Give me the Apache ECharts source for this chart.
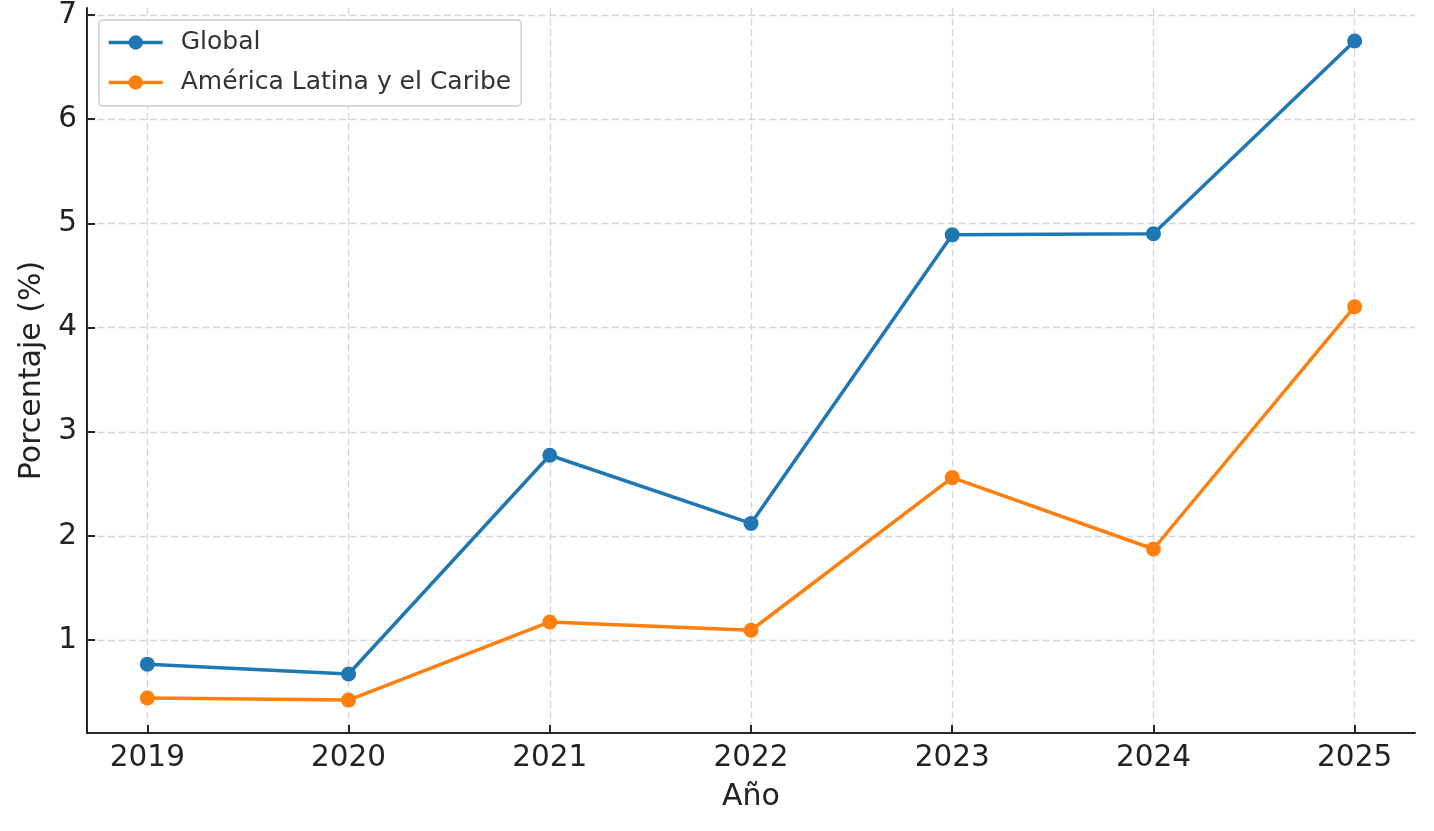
<!DOCTYPE html>
<html><head><meta charset="utf-8">
<script src="https://cdn.jsdelivr.net/npm/echarts@6/dist/echarts.min.js"></script>
<style>html,body{margin:0;padding:0;background:#fff}#c{width:1434px;height:831px}</style>
</head><body><div id="c"></div>
<script>
const years = [2019, 2020, 2021, 2022, 2023, 2024, 2025];
const globalVals = [0.77, 0.675, 2.775, 2.12, 4.89, 4.90, 6.75];
const latamVals = [0.445, 0.425, 1.175, 1.095, 2.56, 1.875, 4.20];
const yTicks = [1, 2, 3, 4, 5, 6, 7];
const seriesNames = ['Global', 'América Latina y el Caribe'];
const colors = ['#1f77b4', '#ff7f0e'];

const font = 'DejaVu Sans';
const chart = echarts.init(document.getElementById('c'), null, {renderer: 'canvas'});
const toPairs = vals => years.map((y, i) => [y, vals[i]]);

const gridLine = {show: true, lineStyle: {color: '#d6d6d6', width: 1.3, type: [7, 3.5]}};
const axisLine = {show: true, onZero: false, lineStyle: {color: '#262626', width: 2}};

chart.setOption({
  animation: false,
  color: colors,
  grid: {left: 87, right: 19, top: 7, bottom: 98, containLabel: false},
  legend: {
    orient: 'vertical', left: 99, top: 20,
    data: seriesNames,
    itemWidth: 54, itemHeight: 18, itemGap: 15,
    padding: [10, 10, 11, 8],
    lineStyle: {width: 3.4},
    backgroundColor: '#fff', borderColor: '#cccccc', borderWidth: 1.5, borderRadius: 4,
    textStyle: {fontFamily: font, fontSize: 25, color: '#333', padding: [0, 0, 0, 13]}
  },
  xAxis: {
    type: 'value', min: 2018.7, max: 2025.3, minInterval: 1, maxInterval: 1, splitNumber: 6,
    name: 'Año', nameLocation: 'middle', nameGap: 49,
    nameTextStyle: {fontFamily: font, fontSize: 30, color: '#222'},
    axisLine: axisLine,
    axisTick: {show: true, inside: true, length: 8, customValues: years, lineStyle: {color: '#262626', width: 2}},
    axisLabel: {show: true, customValues: years, margin: 10,
      fontFamily: font, fontSize: 29.5, color: '#222', formatter: v => String(v)},
    splitLine: gridLine
  },
  yAxis: {
    type: 'value', min: 0.109, max: 7.067, minInterval: 1, maxInterval: 1, splitNumber: 7,
    name: 'Porcentaje (%)', nameLocation: 'middle', nameGap: 40,
    nameTextStyle: {fontFamily: font, fontSize: 30, color: '#222'},
    axisLine: axisLine,
    axisTick: {show: true, inside: true, length: 8, customValues: yTicks, lineStyle: {color: '#262626', width: 2}},
    axisLabel: {show: true, customValues: yTicks, margin: 10,
      fontFamily: font, fontSize: 29.5, color: '#222', formatter: v => String(v)},
    splitLine: gridLine
  },
  series: [
    {name: seriesNames[0], type: 'line', data: toPairs(globalVals), symbol: 'circle', symbolSize: 15,
      lineStyle: {width: 3.5}, itemStyle: {color: colors[0]}, z: 3},
    {name: seriesNames[1], type: 'line', data: toPairs(latamVals), symbol: 'circle', symbolSize: 15,
      lineStyle: {width: 3.5}, itemStyle: {color: colors[1]}, z: 3}
  ]
});
</script></body></html>
